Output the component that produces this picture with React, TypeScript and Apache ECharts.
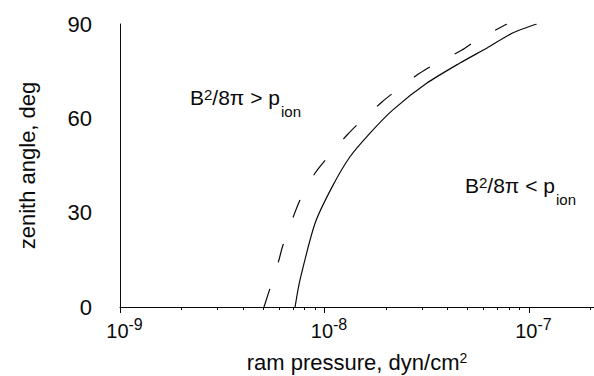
import React, { useEffect, useRef } from "react";
import * as echarts from "echarts";

// Solid curve: ram pressure (dyn/cm^2) vs zenith angle (deg)
const solidPressure = [7.18e-9, 7.59e-9, 9.0e-9, 1.09e-8, 1.33e-8, 1.67e-8, 2.16e-8, 3.17e-8, 4.6e-8, 6.24e-8, 8.36e-8, 1.09e-7];
const solidAngle = [0, 8.6, 26.7, 38.2, 47.7, 55.3, 62.7, 71.2, 77.6, 82.4, 87.2, 90];

// Dashed curve
const dashedPressure = [5.06e-9, 5.93e-9, 6.27e-9, 7.59e-9, 9.0e-9, 1.04e-8, 1.29e-8, 1.49e-8, 1.91e-8, 2.26e-8, 2.93e-8, 3.55e-8, 4.7e-8, 5.57e-8, 7.8e-8];
const dashedAngle = [0, 14, 19.7, 34, 42.6, 47.7, 54.7, 58.8, 65.2, 69, 74.4, 77.6, 81.7, 84.9, 90];

// Axis ticks
const xMajorExponents = [-9, -8, -7];
const xMinorMultipliers = [2, 3, 4, 5, 6, 7, 8, 9];
const xMinExp = -9;
const xMaxExp = -6.682;
const yTicks = [0, 30, 60, 90];

const FONT = "'Liberation Sans', Arial, Helvetica, sans-serif";
const INK = "#0a0a0a";

export default function App() {
  const ref = useRef<HTMLDivElement>(null);

  useEffect(() => {
    if (!ref.current) return;
    const chart = echarts.init(ref.current, undefined, { renderer: "svg" });

    const minorValues: number[] = [];
    xMajorExponents.concat([-6]).forEach((e) => {
      xMinorMultipliers.forEach((m) => {
        const v = Math.log10(m) + e;
        if (v > xMinExp && v < xMaxExp) minorValues.push(v);
      });
    });

    const solidData = solidPressure.map((p, i) => [Math.log10(p), solidAngle[i]]);
    const dashedData = dashedPressure.map((p, i) => [Math.log10(p), dashedAngle[i]]);

    const annotRich = {
      a: { fontSize: 21, lineHeight: 22, verticalAlign: "top", fill: INK, fontFamily: FONT },
      s: { fontSize: 15, lineHeight: 15, verticalAlign: "top", fill: INK, fontFamily: FONT },
      u: { fontSize: 15, lineHeight: 15, verticalAlign: "top", padding: [17, 0, 0, 1], fill: INK, fontFamily: FONT },
    };

    chart.setOption({
      animation: false,
      backgroundColor: "#ffffff",
      grid: { left: 120, right: 0, top: 24, bottom: 69, containLabel: false, outerBoundsMode: "none" },
      xAxis: [
        {
          type: "value",
          position: "bottom",
          min: xMinExp,
          max: xMaxExp,
          axisLine: { show: true, lineStyle: { color: INK, width: 1 } },
          axisTick: { show: true, customValues: xMajorExponents, length: 6, inside: false, lineStyle: { color: INK, width: 1 } },
          axisLabel: {
            show: true,
            customValues: xMajorExponents,
            margin: 9,
            formatter: (v: number) => `{b|10}{s|${Math.round(v)}}`,
            rich: {
              b: { fontSize: 20, lineHeight: 20, padding: [5, 0, 0, 9], verticalAlign: "top", color: INK, fontFamily: FONT },
              s: { fontSize: 16, lineHeight: 16, verticalAlign: "top", color: INK, fontFamily: FONT },
            },
          },
          splitLine: { show: false },
          name: "{a|ram pressure, dyn/cm}{s|2}",
          nameLocation: "middle",
          nameGap: 44,
          nameTextStyle: {
            rich: {
              a: { fontSize: 22, lineHeight: 22, verticalAlign: "top", color: INK, fontFamily: FONT },
              s: { fontSize: 14, lineHeight: 14, verticalAlign: "top", color: INK, fontFamily: FONT },
            },
          },
        },
        {
          type: "value",
          position: "bottom",
          min: xMinExp,
          max: xMaxExp,
          axisLine: { show: false },
          axisTick: { show: true, customValues: minorValues, length: 3, inside: false, lineStyle: { color: INK, width: 1 } },
          axisLabel: { show: false },
          splitLine: { show: false },
        },
      ],
      yAxis: {
        type: "value",
        min: 0,
        max: 90,
        interval: 30,
        axisLine: { show: true, lineStyle: { color: INK, width: 1 } },
        axisTick: { show: false },
        axisLabel: {
          show: true,
          customValues: yTicks,
          margin: 28,
          fontSize: 22,
          color: INK,
          fontFamily: FONT,
        },
        splitLine: { show: false },
        name: "zenith angle, deg",
        nameLocation: "middle",
        nameGap: 82,
        nameTextStyle: { fontSize: 22, color: INK, fontFamily: FONT },
      },
      series: [
        {
          type: "line",
          data: solidData,
          xAxisIndex: 0,
          showSymbol: false,
          symbol: "none",
          smooth: 0.25,
          lineStyle: { color: INK, width: 1.2 },
          z: 3,
        },
        {
          type: "line",
          data: dashedData,
          xAxisIndex: 0,
          showSymbol: false,
          symbol: "none",
          smooth: 0.25,
          lineStyle: { color: INK, width: 1.2, type: [19, 28] },
          z: 3,
        },
      ],
      graphic: [
        {
          type: "text",
          x: 190,
          y: 87,
          style: {
            text: "{a|B}{s|2}{a|/8π > p}{u|ion}",
            fill: INK,
            fontFamily: FONT,
            fontSize: 21,
            align: "left",
            verticalAlign: "top",
            rich: annotRich,
          },
        },
        {
          type: "text",
          x: 465,
          y: 175,
          style: {
            text: "{a|B}{s|2}{a|/8π < p}{u|ion}",
            fill: INK,
            fontFamily: FONT,
            fontSize: 21,
            align: "left",
            verticalAlign: "top",
            rich: annotRich,
          },
        },
      ],
    });

    return () => chart.dispose();
  }, []);

  return <div ref={ref} style={{ position: "absolute", left: 0, top: 0, width: 594, height: 376 }} />;
}
